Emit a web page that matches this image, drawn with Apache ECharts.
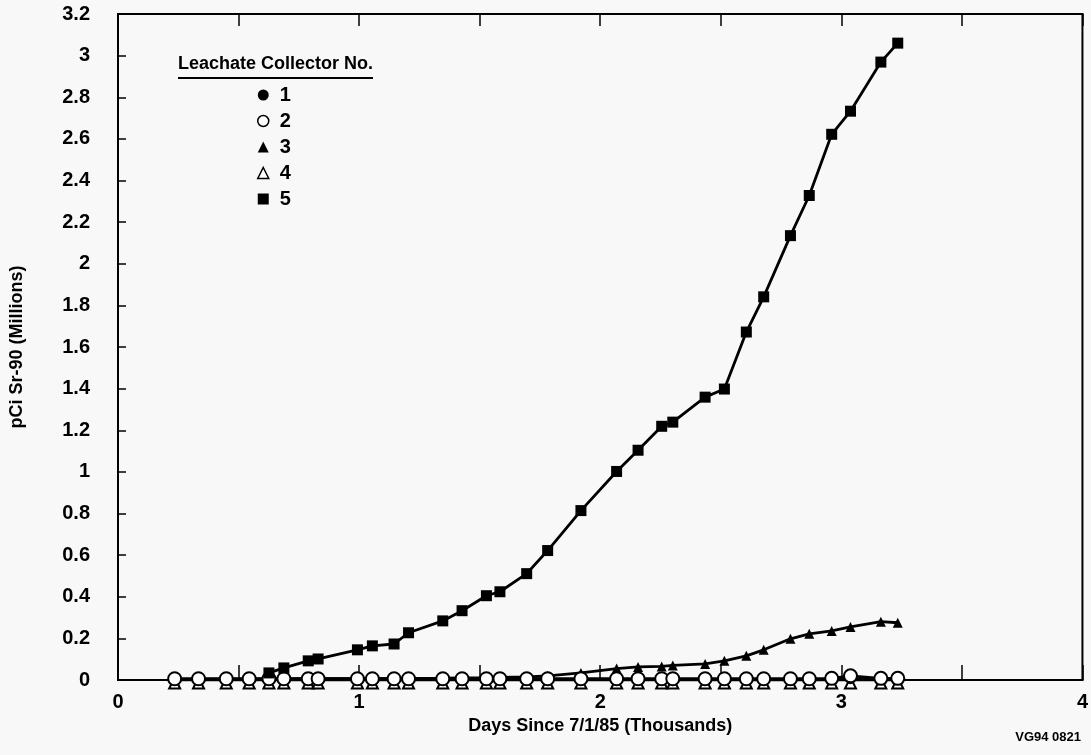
<!DOCTYPE html>
<html><head><meta charset="utf-8">
<script src="https://cdn.jsdelivr.net/npm/echarts@6/dist/echarts.min.js"></script>
<style>html,body{margin:0;padding:0;background:#f8f8f8}#c{width:1091px;height:755px}</style>
</head><body><div id="c"></div>
<script>
// Days since 7/1/85 (thousands)
const days = [0.235,0.334,0.449,0.544,0.626,0.688,0.789,0.830,0.993,1.055,1.145,1.205,1.347,1.427,1.528,1.584,1.695,1.782,1.920,2.068,2.157,2.255,2.301,2.435,2.515,2.606,2.678,2.789,2.867,2.960,3.038,3.164,3.234];
// pCi Sr-90 (millions)
const collector1 = [0.002,0.002,0.002,0.002,0.002,0.002,0.002,0.002,0.002,0.002,0.002,0.002,0.002,0.002,0.002,0.002,0.002,0.002,0.002,0.002,0.002,0.002,0.002,0.002,0.002,0.002,0.002,0.002,0.002,0.002,0.004,0.002,0.002];
const collector2 = [0.006,0.006,0.006,0.006,0.006,0.006,0.006,0.006,0.006,0.006,0.006,0.006,0.006,0.006,0.006,0.006,0.006,0.006,0.006,0.006,0.006,0.006,0.006,0.006,0.006,0.006,0.006,0.006,0.006,0.008,0.020,0.008,0.008];
const collector3 = [0.003,0.003,0.004,0.004,0.005,0.005,0.006,0.006,0.007,0.007,0.008,0.008,0.009,0.010,0.011,0.012,0.015,0.020,0.034,0.055,0.063,0.065,0.070,0.077,0.092,0.116,0.145,0.198,0.222,0.236,0.255,0.280,0.275];
const collector4 = [0,0,0,0,0,0,0,0,0,0,0,0,0,0,0,0,0,0,0,0,0,0,0,0,0,0,0,0,0,0,0,0,0];
const collector5 = [null,null,null,null,0.034,0.058,0.092,0.101,0.145,0.164,0.173,0.227,0.284,0.333,0.405,0.424,0.511,0.622,0.814,1.002,1.104,1.219,1.239,1.359,1.398,1.672,1.841,2.135,2.328,2.622,2.733,2.969,3.060];
const legendNames = ['1','2','3','4','5'];

const F = '"Liberation Sans", Arial, Helvetica, sans-serif';
const pts = arr => days.map((d,i)=>[d,arr[i]]);
const chart = echarts.init(document.getElementById('c'), null, {renderer:'canvas'});
const lineS = {color:'#000', width:2.8};
const hollow = {color:'#fff', borderColor:'#000', borderWidth:2};
const solid = {color:'#000'};
const option = {
  backgroundColor:'#f8f8f8',
  animation:false,
  textStyle:{fontFamily:F},
  grid:{left:115,right:5,top:14,bottom:75,show:true,borderColor:'#000',borderWidth:2},
  xAxis:[{
    type:'value',min:0,max:4,interval:0.5,position:'bottom',
    axisLine:{lineStyle:{color:'#000',width:2}},
    axisTick:{inside:true,length:15,lineStyle:{color:'#000',width:1.5}},
    axisLabel:{formatter:v=>Number.isInteger(v)?String(v):'',color:'#000',fontSize:20,fontWeight:'bold',margin:12,fontFamily:F},
    splitLine:{show:false},
    name:'Days Since 7/1/85 (Thousands)',nameLocation:'middle',nameGap:33,
    nameTextStyle:{color:'#000',fontSize:18,fontWeight:'bold',fontFamily:F}
  },{
    type:'value',min:0,max:4,interval:0.5,position:'top',
    axisLine:{lineStyle:{color:'#000',width:2}},
    axisTick:{inside:true,length:12,lineStyle:{color:'#000',width:1.5}},
    axisLabel:{show:false},splitLine:{show:false}
  }],
  yAxis:{
    type:'value',min:0,max:3.2,interval:0.2,
    axisLine:{show:true,lineStyle:{color:'#000',width:2}},
    axisTick:{show:true,inside:true,length:8,lineStyle:{color:'#000',width:1.5}},
    axisLabel:{color:'#000',fontSize:20,fontWeight:'bold',margin:28,fontFamily:F},
    splitLine:{show:false},
    name:'pCi Sr-90 (Millions)',nameLocation:'middle',nameGap:92,
    nameTextStyle:{color:'#000',fontSize:18,fontWeight:'bold',fontFamily:F}
  },
  legend:{
    orient:'vertical',left:252,top:80,itemWidth:11,itemHeight:11,itemGap:6,selectedMode:false,
    textStyle:{color:'#000',fontSize:20,fontWeight:'bold',lineHeight:19,fontFamily:F,padding:[0,0,0,6]},
    data:[
      {name:legendNames[0],icon:'circle',itemStyle:solid},
      {name:legendNames[1],icon:'circle',itemStyle:{color:'#fff',borderColor:'#000',borderWidth:1.5}},
      {name:legendNames[2],icon:'triangle',itemStyle:solid},
      {name:legendNames[3],icon:'triangle',itemStyle:{color:'#fff',borderColor:'#000',borderWidth:1.5}},
      {name:legendNames[4],icon:'rect',itemStyle:solid}
    ]
  },
  graphic:[
    {type:'text',left:178,top:55,style:{text:'Leachate Collector No.',fontSize:18,fontWeight:'bold',fontFamily:F,fill:'#000'}},
    {type:'line',shape:{x1:178,y1:78,x2:373,y2:78},style:{stroke:'#000',lineWidth:2}},
    {type:'text',right:10,top:731,style:{text:'VG94 0821',fontSize:13,fontWeight:'bold',fontFamily:F,fill:'#000'}}
  ],
  series:[
    {name:legendNames[3],type:'line',data:pts(collector4),symbol:'triangle',symbolSize:11,symbolOffset:[0,3],itemStyle:hollow,lineStyle:lineS,z:2},
    {name:legendNames[2],type:'line',data:pts(collector3),symbol:'triangle',symbolSize:10,itemStyle:solid,lineStyle:lineS,z:3},
    {name:legendNames[0],type:'line',data:pts(collector1),symbol:'circle',symbolSize:10,itemStyle:solid,lineStyle:lineS,z:4},
    {name:legendNames[1],type:'line',data:pts(collector2),symbol:'circle',symbolSize:13,itemStyle:hollow,lineStyle:lineS,z:5},
    {name:legendNames[4],type:'line',data:pts(collector5),symbol:'rect',symbolSize:11,itemStyle:solid,lineStyle:lineS,z:6}
  ]
};
chart.setOption(option);
</script></body></html>
